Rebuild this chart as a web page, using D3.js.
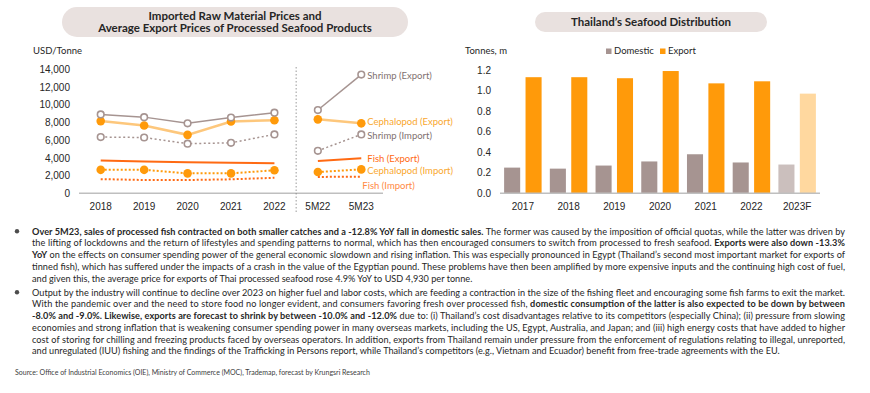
<!DOCTYPE html>
<html>
<head>
<meta charset="utf-8">
<script src="https://cdn.jsdelivr.net/npm/d3@7"></script>
<style>
  body { margin: 0; background: #fff; }
  svg { display: block; font-family: Lato, "Open Sans", sans-serif; }
</style>
</head>
<body>
<div id="chart"></div>
<script>
// ---- left chart data (USD/Tonne)
const priceCats = ["2018", "2019", "2020", "2021", "2022", "5M22", "5M23"];
const shrimpExport = [8900, 8600, 7900, 8550, 9100, 9400, 13400];
const cephExport = [8150, 7650, 6600, 8100, 8250, 8350, 7900];
const shrimpImport = [6350, 6300, 5600, 5700, 6650, 4800, 6650];
const fishExport = [3700, 3600, 3500, 3450, 3400, 3650, 3950];
const cephImport = [2650, 2650, 2250, 2250, 2600, 2400, 2700];
const fishImport = [1600, 1500, 1500, 1580, 1750, 1850, 1870];
const priceTicks = [0, 2000, 4000, 6000, 8000, 10000, 12000, 14000];

// ---- right chart data (Tonnes, m)
const distYears = ["2017", "2018", "2019", "2020", "2021", "2022", "2023F"];
const domestic = [0.25, 0.24, 0.27, 0.31, 0.38, 0.30, 0.28];
const exportVol = [1.13, 1.13, 1.12, 1.19, 1.07, 1.09, 0.97];
const distTicks = [0, 0.2, 0.4, 0.6, 0.8, 1.0, 1.2];

// ---- text
const bullet1 = [
  "**Over 5M23, sales of processed fish contracted on both smaller catches and a -12.8% YoY fall in domestic sales.** The former was caused by the imposition of official quotas, while the latter was driven by",
  "the lifting of lockdowns and the return of lifestyles and spending patterns to normal, which has then encouraged consumers to switch from processed to fresh seafood. **Exports were also down -13.3%**",
  "**YoY** on the effects on consumer spending power of the general economic slowdown and rising inflation. This was especially pronounced in Egypt (Thailand\u2019s second most important market for exports of",
  "tinned fish), which has suffered under the impacts of a crash in the value of the Egyptian pound. These problems have then been amplified by more expensive inputs and the continuing high cost of fuel,",
  "and given this, the average price for exports of Thai processed seafood rose 4.9% YoY to USD 4,930 per tonne."
];
const bullet2 = [
  "Output by the industry will continue to decline over 2023 on higher fuel and labor costs, which are feeding a contraction in the size of the fishing fleet and encouraging some fish farms to exit the market.",
  "With the pandemic over and the need to store food no longer evident, and consumers favoring fresh over processed fish, **domestic consumption of the latter is also expected to be down by between**",
  "**-8.0% and -9.0%. Likewise, exports are forecast to shrink by between -10.0% and -12.0%** due to: (i) Thailand\u2019s cost disadvantages relative to its competitors (especially China); (ii) pressure from slowing",
  "economies and strong inflation that is weakening consumer spending power in many overseas markets, including the US, Egypt, Australia, and Japan; and (iii) high energy costs that have added to higher",
  "cost of storing for chilling and freezing products faced by overseas operators. In addition, exports from Thailand remain under pressure from the enforcement of regulations relating to illegal, unreported,",
  "and unregulated (IUU) fishing and the findings of the Trafficking in Persons report, while Thailand\u2019s competitors (e.g., Vietnam and Ecuador) benefit from free-trade agreements with the EU."
];
const sourceText = "Source:  Office of Industrial Economics (OIE), Ministry of Commerce (MOC), Trademap, forecast by Krungsri Research";

const W = 870, H = 393;
const svg = d3.select("#chart").append("svg")
    .attr("width", W)
    .attr("height", H);

const taupe = "#a69491", orange = "#ff9a0a", lightOrange = "#fdc77c", red = "#ff6a13";
const textDark = "#262626";

// title pills
function pill(x, y, w, h, lines, lh) {
    svg.append("rect")
        .attr("x", x).attr("y", y).attr("width", w).attr("height", h)
        .attr("rx", h / 2).attr("fill", "#e9e1df");
    lines.forEach((t, i) => {
        svg.append("text")
            .attr("x", x + w / 2)
            .attr("y", y + h / 2 + (i - (lines.length - 1) / 2) * lh + 4)
            .attr("text-anchor", "middle")
            .attr("font-weight", "bold")
            .attr("font-size", 11.5)
            .attr("fill", textDark)
            .text(t);
    });
}
pill(62, 7, 346, 30, ["Imported Raw Material Prices and", "Average Export Prices of Processed Seafood Products"], 12);
pill(535, 12, 232, 20, ["Thailand\u2019s Seafood Distribution"], 12);

// ===== left chart
const xL = d3.scaleBand().domain(priceCats).range([79, 383]);
const yL = d3.scaleLinear().domain([0, 14000]).range([193.3, 69.3]);
const cx = c => xL(c) + xL.bandwidth() / 2;

svg.append("text").attr("x", 33).attr("y", 54)
    .attr("font-size", 9.5).attr("fill", textDark).text("USD/Tonne");

const gyL = svg.append("g").attr("transform", "translate(79,0)")
    .call(d3.axisLeft(yL).tickValues(priceTicks).tickFormat(d3.format(",")).tickSize(0).tickPadding(9));
gyL.select(".domain").remove();
gyL.selectAll("text").attr("font-size", 10).attr("fill", textDark).attr("font-family", null);

const gxL = svg.append("g").attr("transform", "translate(0,193.3)")
    .call(d3.axisBottom(xL).tickSize(0).tickPadding(10));
gxL.select(".domain").remove();
gxL.selectAll("text").attr("font-size", 10).attr("fill", textDark).attr("font-family", null);
svg.append("line").attr("x1", 79).attr("x2", 383).attr("y1", 193.3).attr("y2", 193.3)
    .attr("stroke", "#bfbfbf").attr("stroke-width", 1.5);

// divider between annual and 5-month figures
svg.append("line")
    .attr("x1", xL("5M22")).attr("x2", xL("5M22"))
    .attr("y1", 67).attr("y2", 213)
    .attr("stroke", "#7f7f7f").attr("stroke-width", 0.8)
    .attr("stroke-dasharray", "1.5,2");

const series = [
    { name: "Fish (Import)", values: fishImport, color: red, width: 2, dash: "2,2", marker: null, label: "#ff8a45", dx: 1, dy: 9 },
    { name: "Cephalopod (Import)", values: cephImport, color: orange, width: 2, dash: "2,2", marker: "fill", label: "#f9a72e", dx: 6, dy: 1.5 },
    { name: "Fish (Export)", values: fishExport, color: red, width: 2, dash: null, marker: null, label: "#ff6a13", dx: 6, dy: 0 },
    { name: "Shrimp (Import)", values: shrimpImport, color: taupe, width: 1.5, dash: "2,2.5", marker: "open", label: "#7f716f", dx: 6, dy: 1.5 },
    { name: "Cephalopod (Export)", values: cephExport, color: lightOrange, width: 2.5, dash: null, marker: "fill", label: "#f9a72e", dx: 6, dy: -1.5 },
    { name: "Shrimp (Export)", values: shrimpExport, color: taupe, width: 1.5, dash: null, marker: "open", label: "#7f716f", dx: 6, dy: 0.5 }
];

const line = d3.line().x(d => cx(d.cat)).y(d => yL(d.v));

series.forEach(s => {
    const pts = priceCats.map((c, i) => ({ cat: c, v: s.values[i] }));
    const segs = [pts.slice(0, 5), pts.slice(5)];
    segs.forEach(seg => {
        svg.append("path")
            .datum(seg)
            .attr("d", line)
            .attr("fill", "none")
            .attr("stroke", s.color)
            .attr("stroke-width", s.width)
            .attr("stroke-dasharray", s.dash);
    });
    if (s.marker == "open") {
        svg.append("g").selectAll("circle").data(pts).enter().append("circle")
            .attr("cx", d => cx(d.cat)).attr("cy", d => yL(d.v)).attr("r", 3.3)
            .attr("fill", "#fff").attr("stroke", taupe).attr("stroke-width", 1.6);
    } else if (s.marker == "fill") {
        svg.append("g").selectAll("circle").data(pts).enter().append("circle")
            .attr("cx", d => cx(d.cat)).attr("cy", d => yL(d.v)).attr("r", 4.3)
            .attr("fill", orange);
    }
    const last = pts[pts.length - 1];
    svg.append("text")
        .attr("x", cx(last.cat) + s.dx)
        .attr("y", yL(last.v) + s.dy + 3.5)
        .attr("font-size", 9.5)
        .attr("fill", s.label)
        .text(s.name);
});

// ===== right chart
const x0 = d3.scaleBand().domain(distYears).range([500, 820]).paddingInner(0.18).paddingOuter(0.09);
const x1 = d3.scaleBand().domain(["Domestic", "Export"]).range([0, x0.bandwidth()]).paddingInner(0.25);
const yR = d3.scaleLinear().domain([0, 1.2]).range([193.3, 70]);

svg.append("text").attr("x", 465).attr("y", 54)
    .attr("font-size", 9.5).attr("fill", textDark).text("Tonnes, m");

const legend = [["Domestic", taupe], ["Export", orange]];
const lg = svg.append("g").selectAll("g").data(legend).enter().append("g")
    .attr("transform", (d, i) => `translate(${i == 0 ? 606 : 660},0)`);
lg.append("rect").attr("x", 0).attr("y", 48.5).attr("width", 5.5).attr("height", 5.5).attr("fill", d => d[1]);
lg.append("text").attr("x", 8).attr("y", 54.3).attr("font-size", 9.5).attr("fill", textDark).text(d => d[0]);

const gyR = svg.append("g").attr("transform", "translate(500,0)")
    .call(d3.axisLeft(yR).tickValues(distTicks).tickFormat(d3.format(".1f")).tickSize(0).tickPadding(9));
gyR.select(".domain").remove();
gyR.selectAll("text").attr("font-size", 10).attr("fill", textDark).attr("font-family", null);

const bars = distYears.map((y, i) => ({ year: y, Domestic: domestic[i], Export: exportVol[i], forecast: y.endsWith("F") }));
const grp = svg.append("g").selectAll("g").data(bars).enter().append("g")
    .attr("transform", d => `translate(${x0(d.year)},0)`);
grp.selectAll("rect")
    .data(d => ["Domestic", "Export"].map(k => ({ key: k, v: d[k], forecast: d.forecast })))
    .enter().append("rect")
    .attr("x", d => x1(d.key))
    .attr("y", d => yR(d.v))
    .attr("width", x1.bandwidth())
    .attr("height", d => yR(0) - yR(d.v))
    .attr("fill", d => d.forecast ? (d.key == "Domestic" ? "#cbbfbd" : "#ffd89f") : (d.key == "Domestic" ? taupe : orange));

const gxR = svg.append("g").attr("transform", "translate(0,193.3)")
    .call(d3.axisBottom(x0).tickSize(0).tickPadding(10));
gxR.select(".domain").remove();
gxR.selectAll("text").attr("font-size", 10).attr("fill", textDark).attr("font-family", null);
svg.append("line").attr("x1", 500).attr("x2", 820).attr("y1", 193.3).attr("y2", 193.3)
    .attr("stroke", "#bfbfbf").attr("stroke-width", 1.5);

// ===== commentary (justified lines)
const textLeft = 32, textRight = 845;
const bodyLines = [];
function writeLine(str, y, justify) {
    const t = svg.append("text").attr("x", textLeft).attr("y", y)
        .attr("font-size", 10).attr("fill", textDark);
    str.split("**").forEach((part, i) => {
        if (part.length) t.append("tspan").attr("font-weight", i % 2 ? "bold" : null).text(part);
    });
    bodyLines.push({ t, justify });
}
function paragraph(lines, y0) {
    svg.append("circle").attr("cx", 17).attr("cy", y0 - 3.3).attr("r", 2.2).attr("fill", "#4d4d4d");
    lines.forEach((l, i) => writeLine(l, y0 + i * 11.75, i < lines.length - 1));
}
paragraph(bullet1, 234.5);
paragraph(bullet2, 295.5);

// shrink the font so the widest line fits, then spread the justified ones
const target = textRight - textLeft;
const widest = d3.max(bodyLines, d => d.t.node().getComputedTextLength());
const fs = Math.min(10, 10 * target / widest * 0.995);
bodyLines.forEach(d => {
    d.t.attr("font-size", fs);
    if (d.justify) d.t.attr("textLength", target).attr("lengthAdjust", "spacing");
});

svg.append("text").attr("x", 15).attr("y", 374.5)
    .attr("font-size", 7).attr("fill", "#404040").text(sourceText);
</script>
</body>
</html>
